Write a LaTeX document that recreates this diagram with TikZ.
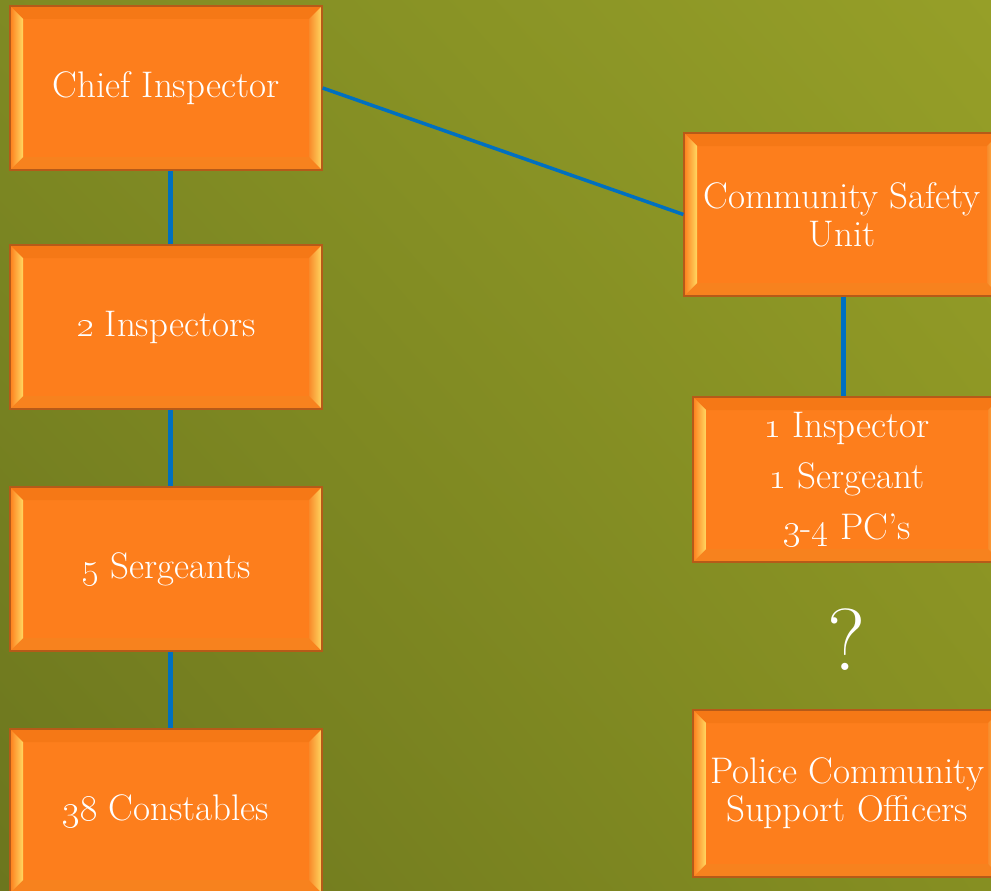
\RequirePackage{fix-cm}
\documentclass[tikz,border=0pt]{standalone}
\usetikzlibrary{calc,shadings}
\definecolor{bgUL}{HTML}{7F8A23}
\definecolor{bgUR}{HTML}{969F28}
\definecolor{bgLL}{HTML}{6C761E}
\definecolor{bgLR}{HTML}{868F22}
\definecolor{boxfill}{HTML}{FD7E1C}
\definecolor{boxedge}{HTML}{B65A18}
\definecolor{bevyellow}{HTML}{FFD862}
\definecolor{bevorange}{HTML}{F88A2A}
\definecolor{bevtopc}{HTML}{F57816}
\definecolor{bevbotc}{HTML}{F7821E}
\definecolor{linkblue}{HTML}{0070C0}
\newcommand\boxfont{\fontsize{37}{38}\selectfont}
\newcommand\osn[1]{\oldstylenums{#1}}
\tikzset{
  bevelbox/.style={draw=boxedge, line width=1.2pt, fill=boxfill, inner sep=0pt,
    align=center, text=white, font=\boxfont,
    path picture={
      \coordinate (bsw) at (path picture bounding box.south west);
      \coordinate (bne) at (path picture bounding box.north east);
      \coordinate (bnw) at (bsw |- bne);
      \coordinate (bse) at (bne |- bsw);
      \coordinate (isw) at ($(bsw)+(13pt,13pt)$);
      \coordinate (ine) at ($(bne)+(-13pt,-13pt)$);
      \coordinate (inw) at (isw |- ine);
      \coordinate (ise) at (ine |- isw);
      \fill[bevtopc] (bnw) -- (bne) -- (ine) -- (inw) -- cycle;
      \fill[bevbotc] (bsw) -- (bse) -- (ise) -- (isw) -- cycle;
      \shade[left color=boxfill, right color=bevyellow] (bsw) -- (bnw) -- (inw) -- (isw) -- cycle;
      \shade[left color=bevorange, right color=bevyellow] (bse) -- (bne) -- (ine) -- (ise) -- cycle;
    }},
  link/.style={draw=linkblue, line width=5pt}
}
\begin{document}
\begin{tikzpicture}[x=1pt,y=-1pt]
\useasboundingbox (0,0) rectangle (991,891);
\shade[upper left=bgUL, upper right=bgUR, lower left=bgLL, lower right=bgLR] (0,0) rectangle (991,891);

\node[bevelbox, minimum width=312pt, minimum height=164pt] (chief) at (166,88) {Chief Inspector};
\node[bevelbox, minimum width=312pt, minimum height=164pt] (insp) at (166,327) {\osn{2} Inspectors};
\node[bevelbox, minimum width=312pt, minimum height=164pt] (serg) at (166,569) {\osn{5} Sergeants};
\node[bevelbox, minimum width=312pt, minimum height=164pt] (const) at (166,811) {\osn{38} Constables};

\node[bevelbox, minimum width=316pt, minimum height=163pt] (csu) at (842,214.5) {Community Safety\\Unit};
\node[bevelbox, minimum width=308pt, minimum height=165pt, font={\fontsize{37}{51}\selectfont}] (team) at (847,479.5) {\osn{1} Inspector\\\osn{1} Sergeant\\\osn{3}-\osn{4} PC’s};
\node[text=white, font={\fontsize{88}{90}\selectfont}, inner sep=0pt] (q) at (847,640) {?};
\node[bevelbox, minimum width=308pt, minimum height=167pt] (pcso) at (847,793.5) {Police Community\\Support Officers};

\draw[link] ([xshift=4pt]chief.south) -- ([xshift=4pt]insp.north);
\draw[link] ([xshift=4pt]insp.south) -- ([xshift=4pt]serg.north);
\draw[link] ([xshift=4pt]serg.south) -- ([xshift=4pt]const.north);
\draw[link, line width=3.5pt] (chief.east) -- (csu.west);
\draw[link] ([xshift=1pt]csu.south) -- ([xshift=1pt]csu.south |- team.north);
\end{tikzpicture}
\end{document}
